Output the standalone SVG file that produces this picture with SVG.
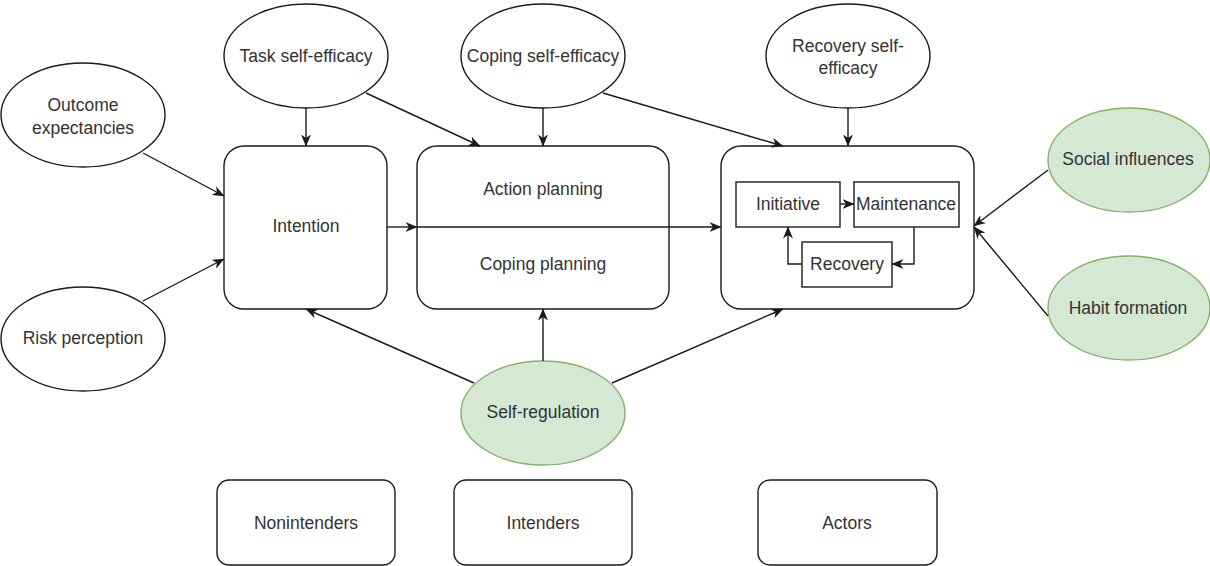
<svg xmlns="http://www.w3.org/2000/svg" width="1210" height="566" viewBox="0 0 1210 566">
<style>
  .shape{fill:#ffffff;stroke:#1a1a1a;stroke-width:1.4}
  .green{fill:#d5e8d4;stroke:#82b366;stroke-width:1.4}
  .lbl{font-family:"Liberation Sans",Arial,Helvetica,sans-serif;font-size:17.5px;fill:#333333;text-anchor:middle;dominant-baseline:central}
  .edge{fill:none;stroke:#1a1a1a;stroke-width:1.4;marker-end:url(#arr)}
</style>
<defs>
  <marker id="arr" viewBox="0 0 12 10" refX="11.5" refY="5" markerWidth="12" markerHeight="10" markerUnits="userSpaceOnUse" orient="auto">
    <path d="M0,0 L12,5 L0,10 L3.5,5 z" fill="#1a1a1a"/>
  </marker>
</defs>
<rect width="1210" height="566" fill="#ffffff"/>

<g id="outcome-expectancies">
  <ellipse class="shape" cx="83" cy="115" rx="82" ry="52"/>
  <text class="lbl" x="83" y="105">Outcome</text>
  <text class="lbl" x="83" y="128">expectancies</text>
</g>
<g id="risk-perception">
  <ellipse class="shape" cx="83" cy="339" rx="82" ry="52"/>
  <text class="lbl" x="83" y="338">Risk perception</text>
</g>
<g id="task-self-efficacy">
  <ellipse class="shape" cx="306" cy="56" rx="82" ry="52"/>
  <text class="lbl" x="306" y="56">Task self-efficacy</text>
</g>
<g id="coping-self-efficacy">
  <ellipse class="shape" cx="543" cy="56" rx="82" ry="52"/>
  <text class="lbl" x="543" y="56">Coping self-efficacy</text>
</g>
<g id="recovery-self-efficacy">
  <ellipse class="shape" cx="848" cy="56" rx="82" ry="52"/>
  <text class="lbl" x="848" y="46">Recovery self-</text>
  <text class="lbl" x="848" y="68">efficacy</text>
</g>
<g id="intention">
  <rect class="shape" x="224" y="146" width="163" height="163" rx="20"/>
  <text class="lbl" x="306" y="226">Intention</text>
</g>
<g id="planning">
  <rect class="shape" x="417" y="146" width="252" height="163" rx="20"/>
  <text class="lbl" x="543" y="189">Action planning</text>
  <text class="lbl" x="543" y="264">Coping planning</text>
</g>
<g id="action">
  <rect class="shape" x="721" y="146" width="253" height="163" rx="20"/>
</g>
<g id="initiative">
  <rect class="shape" x="736" y="182" width="104" height="45"/>
  <text class="lbl" x="788" y="204">Initiative</text>
</g>
<g id="maintenance">
  <rect class="shape" x="854" y="182" width="105" height="45"/>
  <text class="lbl" x="906" y="204">Maintenance</text>
</g>
<g id="recovery">
  <rect class="shape" x="802" y="242" width="90" height="45"/>
  <text class="lbl" x="847" y="264">Recovery</text>
</g>
<g id="social-influences">
  <ellipse class="green" cx="1129" cy="160" rx="81" ry="52"/>
  <text class="lbl" x="1128" y="159">Social influences</text>
</g>
<g id="habit-formation">
  <ellipse class="green" cx="1129" cy="308" rx="81" ry="52"/>
  <text class="lbl" x="1128" y="308">Habit formation</text>
</g>
<g id="self-regulation">
  <ellipse class="green" cx="543" cy="413" rx="82" ry="52"/>
  <text class="lbl" x="543" y="412">Self-regulation</text>
</g>
<g id="nonintenders">
  <rect class="shape" x="217" y="480" width="178" height="85" rx="12"/>
  <text class="lbl" x="306" y="523">Nonintenders</text>
</g>
<g id="intenders">
  <rect class="shape" x="454" y="480" width="178" height="85" rx="12"/>
  <text class="lbl" x="543" y="523">Intenders</text>
</g>
<g id="actors">
  <rect class="shape" x="758" y="480" width="179" height="85" rx="12"/>
  <text class="lbl" x="847" y="523">Actors</text>
</g>

<g id="connectors">
  <line class="edge" x1="306" y1="108" x2="306" y2="146"/>
  <line class="edge" x1="143" y1="153" x2="224" y2="196"/>
  <line class="edge" x1="143" y1="301" x2="224" y2="259"/>
  <line class="edge" x1="543" y1="108" x2="543" y2="146"/>
  <line class="edge" x1="366" y1="93" x2="480" y2="146"/>
  <line class="edge" x1="603" y1="93" x2="783" y2="146"/>
  <line class="edge" x1="848" y1="108" x2="848" y2="146"/>
  <line class="edge" x1="387" y1="227" x2="417" y2="227"/>
  <line class="edge" x1="417" y1="227" x2="721" y2="227"/>
  <line class="edge" x1="543" y1="361" x2="543" y2="309"/>
  <line class="edge" x1="474" y1="383" x2="306" y2="309"/>
  <line class="edge" x1="612" y1="383" x2="783" y2="309"/>
  <line class="edge" x1="1048" y1="170" x2="974" y2="226"/>
  <line class="edge" x1="1048" y1="316" x2="974" y2="227"/>
  <line class="edge" x1="840" y1="204" x2="854" y2="204"/>
  <polyline class="edge" points="914,227 914,264 892,264"/>
  <polyline class="edge" points="802,264 788,264 788,227"/>
</g>
</svg>
